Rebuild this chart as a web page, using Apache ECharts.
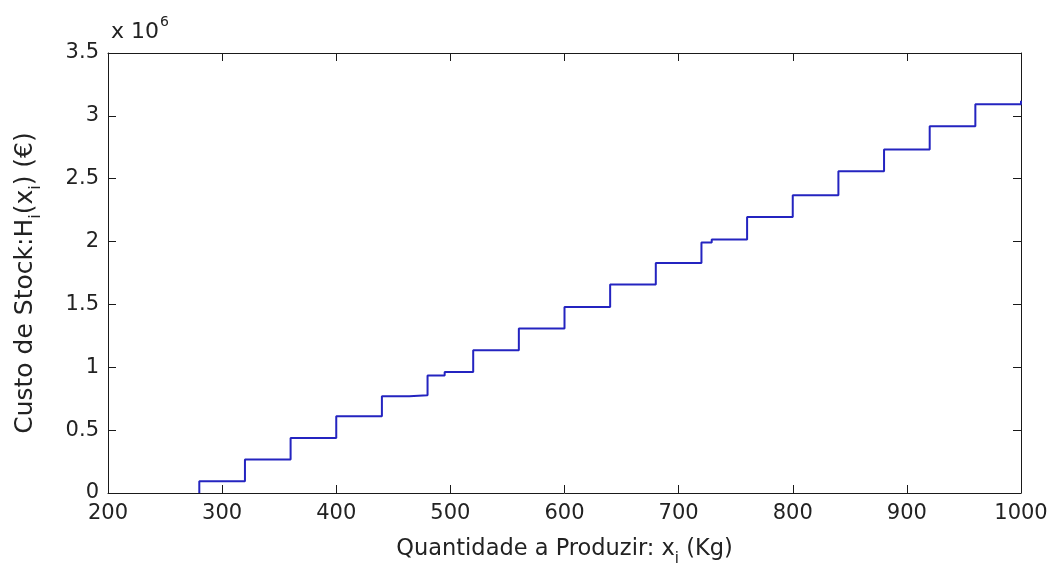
<!DOCTYPE html>
<html>
<head>
<meta charset="utf-8">
<script src="https://cdn.jsdelivr.net/npm/echarts@6/dist/echarts.min.js"></script>
<style>
  html, body { margin: 0; padding: 0; background: #fff; }
  #chart { width: 1052px; height: 572px; }
</style>
</head>
<body>
<div id="chart"></div>
<script>
// step path of the stock cost curve (x in Kg, y in units of 1e6 €)
const xs = [280, 280, 320, 320, 360, 360, 400, 400, 440, 440, 464, 464, 480, 480, 495, 495,
  520, 520, 560, 560, 600, 600, 640, 640, 680, 680, 720, 720, 729, 729, 760, 760,
  800, 800, 840, 840, 880, 880, 920, 920, 960, 960, 1000, 1000]
const ys = [0, 0.093, 0.093, 0.266, 0.266, 0.438, 0.438, 0.61, 0.61, 0.769, 0.769, 0.777, 0.777, 0.935, 0.935, 0.963,
  0.963, 1.135, 1.135, 1.308, 1.308, 1.48, 1.48, 1.658, 1.658, 1.83, 1.83, 1.993, 1.993, 2.016, 2.016, 2.196,
  2.196, 2.368, 2.368, 2.559, 2.559, 2.732, 2.732, 2.917, 2.917, 3.092, 3.092, 3.12]
const xTicks = [200, 300, 400, 500, 600, 700, 800, 900, 1000]
const yTicks = [0, 0.5, 1, 1.5, 2, 2.5, 3, 3.5]
const scale = 1e6

const font = 'DejaVu Sans'
const textColor = '#222'
const lineColor = '#1a1a1a'

const points = xs.map((x, i) => [x, ys[i] * scale])

const myChart = echarts.init(document.getElementById('chart'))

const subStyle = { fontFamily: font, fontSize: 15, color: textColor, lineHeight: 36, verticalAlign: 'bottom' }
const mainStyle = { fontFamily: font, fontSize: 22.5, color: textColor, lineHeight: 36 }
const ySubStyle = { fontFamily: font, fontSize: 16, color: textColor, lineHeight: 38, verticalAlign: 'bottom' }

function frameAxis(position, min, max, interval) {
    return {
        type: 'value', position: position, min: min, max: max, interval: interval,
        axisLine: { show: true, onZero: false, lineStyle: { color: lineColor, width: 1 } },
        axisTick: { show: true, inside: true, length: 8, lineStyle: { color: lineColor } },
        axisLabel: { show: false },
        splitLine: { show: false }
    }
}

const option = {
    backgroundColor: '#fff',
    animation: false,
    title: {
        text: 'x 10{sup|6}',
        left: 106,
        top: 10,
        textStyle: {
            fontFamily: font, fontSize: 22, fontWeight: 'normal', color: textColor,
            rich: { sup: { fontFamily: font, fontSize: 14, color: textColor, verticalAlign: 'top', lineHeight: 34, padding: [0, 0, 14, 1] } }
        }
    },
    grid: { left: 108, right: 31, top: 53, bottom: 79, outerBoundsMode: 'none' },
    xAxis: [{
        type: 'value',
        min: xTicks[0], max: xTicks[xTicks.length - 1], interval: 100,
        name: 'Quantidade a Produzir: x{sub|i} (Kg)',
        nameLocation: 'middle', nameGap: 38,
        nameTextStyle: Object.assign({}, mainStyle, { rich: { sub: subStyle } }),
        axisLine: { show: true, onZero: false, lineStyle: { color: lineColor, width: 1 } },
        axisTick: { show: true, inside: true, length: 8, lineStyle: { color: lineColor } },
        axisLabel: { margin: 10, fontFamily: font, fontSize: 21, color: textColor, formatter: v => String(v) },
        splitLine: { show: false }
    }, frameAxis('top', xTicks[0], xTicks[xTicks.length - 1], 100)],
    yAxis: [{
        type: 'value',
        min: 0, max: yTicks[yTicks.length - 1] * scale, interval: 0.5 * scale,
        name: 'Custo de Stock:H{sub|i}(x{sub|i}) (€)',
        nameLocation: 'middle', nameGap: 64,
        nameTextStyle: Object.assign({}, mainStyle, { fontSize: 25, lineHeight: 38, padding: [0, 20, 0, 0], rich: { sub: ySubStyle } }),
        axisLine: { show: true, onZero: false, lineStyle: { color: lineColor, width: 1 } },
        axisTick: { show: true, inside: true, length: 8, lineStyle: { color: lineColor } },
        axisLabel: {
            margin: 9, fontFamily: font, fontSize: 21, color: textColor,
            formatter: v => String(+(v / scale).toFixed(1))
        },
        splitLine: { show: false }
    }, frameAxis('right', 0, yTicks[yTicks.length - 1] * scale, 0.5 * scale)],
    series: [{
        type: 'line',
        data: points,
        showSymbol: false,
        lineStyle: { color: '#2424c0', width: 2 },
        clip: true
    }]
}

myChart.setOption(option)
</script>
</body>
</html>
